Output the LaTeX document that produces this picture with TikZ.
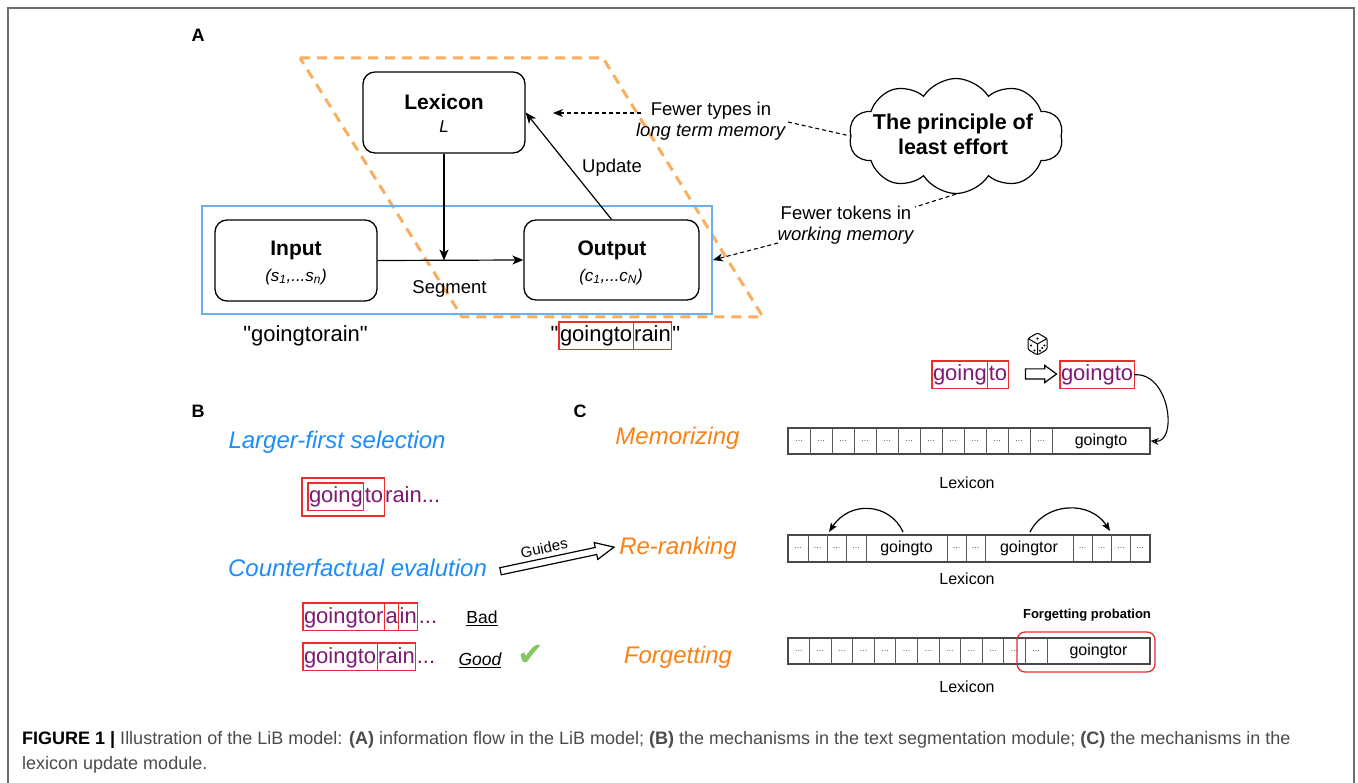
\documentclass[tikz,border=0pt]{standalone}
\usepackage{fontspec}
\setmainfont{Liberation Sans}
\newfontfamily\djv{DejaVu Sans}
\usetikzlibrary{arrows.meta,shapes.symbols,shapes.arrows,calc}
\newcommand{\dquote}{\XeTeXglyph\XeTeXcharglyph"22\relax}
\definecolor{myblue}{RGB}{30,140,250}
\definecolor{myorange}{RGB}{250,130,20}
\definecolor{dashorange}{RGB}{250,175,95}
\definecolor{rectblue}{RGB}{110,175,240}
\definecolor{mypurple}{RGB}{125,25,115}
\definecolor{myred}{RGB}{235,45,45}
\definecolor{mygreen}{RGB}{130,200,100}
\definecolor{framegray}{RGB}{110,110,110}
\definecolor{capgray}{RGB}{75,75,75}
\definecolor{cellgray}{RGB}{90,90,90}
\begin{document}
\begin{tikzpicture}[x=1pt,y=-1pt,
  box/.style={draw, rounded corners=12pt, line width=1.3pt, inner sep=0pt},
  arr/.style={line width=1.2pt, -{Stealth[length=11pt,width=9pt,inset=3pt]}},
  darr/.style={line width=1.1pt, dash pattern=on 4pt off 3pt, -{Stealth[length=10pt,width=8pt,inset=3pt]}},
  dline/.style={line width=1.1pt, dash pattern=on 4pt off 3pt},
  boldlbl/.style={font=\fontsize{21}{25}\selectfont\bfseries},
  sublbl/.style={font=\fontsize{17}{20}\selectfont\itshape},
  midlbl/.style={font=\fontsize{18.5}{21}\selectfont, align=center},
  panel/.style={font=\fontsize{18}{21}\selectfont\bfseries},
  sg/.style={inner xsep=1pt, inner ysep=0pt, text height=20pt, text depth=7.5pt, anchor=base west, text=mypurple, font=\fontsize{22}{26}\selectfont, outer sep=0pt},
  sgb/.style={sg, draw=myred, line width=1.1pt},
  sgk/.style={sg, text=black},
  sgbk/.style={sgb, text=black},
  redbox/.style={draw=myred, line width=1.1pt},
  bluelbl/.style={font=\fontsize{24}{28}\selectfont\itshape, text=myblue},
  orangelbl/.style={font=\fontsize{24}{28}\selectfont\itshape, text=myorange},
  barbox/.style={draw=cellgray!80!black, line width=1.3pt, inner sep=0pt, minimum width=362pt},
  cellline/.style={draw=cellgray, line width=1pt},
  dots/.style={font=\fontsize{9}{10}\selectfont, text=cellgray},
  cellword/.style={font=\fontsize{16}{19}\selectfont},
  hollow/.style={single arrow, draw, line width=1.2pt, inner xsep=0pt, fill=white},
  captext/.style={font=\fontsize{18}{21}\selectfont, text=capgray, anchor=base west, inner sep=0pt}
]
\useasboundingbox (0,0) rectangle (1358,783);
\fill[white] (0,0) rectangle (1358,783);
% frame
\draw[framegray, line width=1.5pt] (8,790) -- (8,8) -- (1354,8) -- (1354,790);

% ===== Panel A =====
\node[panel] (pA) at (198,35) {A};
\draw[dashorange, line width=3pt, dash pattern=on 10pt off 7pt] (300,58) -- (603,58) -- (763,317) -- (462,317) -- cycle;
\node[draw=rectblue, line width=1.8pt, minimum width=510pt, minimum height=108pt, inner sep=0pt] (wm) at (457,260) {};

\node[box, minimum width=162pt, minimum height=81pt] (lex) at (444,112.5) {};
\node[boldlbl] (lext) at (444,102) {Lexicon};
\node[sublbl] (lexL) at (444,127) {L};

\node[box, minimum width=162pt, minimum height=81pt] (inp) at (296,260.5) {};
\node[boldlbl] (inpt) at (296,250) {Input};
\node[sublbl] (inps) at (296,277) {(s\textsubscript{1},...s\textsubscript{n})};

\node[box, minimum width=175pt, minimum height=80pt] (out) at (611.5,260) {};
\node[boldlbl] (outt) at (612,250) {Output};
\node[sublbl] (outc) at (611,277) {(c\textsubscript{1},...c\textsubscript{N})};

\coordinate (junc) at (lex.south |- inp.east);
\draw[arr] (lex.south) -- (junc);
\draw[arr] (inp.east) -- (out.west);
\draw[arr] (out.north) -- (lex.east);
\node[midlbl] (upd) at (612,168) {Update};
\node[midlbl] (seg) at (449.5,289) {Segment};

\node[font=\fontsize{22}{26}\selectfont, anchor=base] (inword) at (305.5,342) {\dquote goingtorain\dquote};
\node[sgbk] (og1) at (559,342) {goingto};
\node[sgbk] (og2) at (og1.base east) {rain};
\node[sgk, anchor=base west, inner xsep=0.5pt] (oq2) at (og2.base east) {\dquote};
\node[sgk, anchor=base east, inner xsep=0.5pt] (oq1) at (og1.base west) {\dquote};

\node[midlbl] (ftypes) at (711,121.5) {Fewer types in\\\textit{long term memory}};
\coordinate (fts) at (641,113);
\coordinate (ftip) at (553,113);
\draw[darr] (fts) -- (ftip);

\node[cloud, draw, cloud puffs=10, cloud puff arc=115, aspect=1.9, minimum width=214pt, minimum height=115pt, line width=1.2pt, inner sep=0pt] (cloud) at (956,136) {};
\node[font=\fontsize{21.5}{25}\selectfont\bfseries, align=center] (cloudt) at (953,134.5) {The principle of\\least effort};
\coordinate (ftr) at (788,122);
\draw[dline] (ftr) -- (cloud.west);

\node[midlbl] (ftok) at (846,225.5) {Fewer tokens in\\\textit{working memory}};
\coordinate (ftkr) at (915,207);
\coordinate (ftkl) at (778,243);
\draw[dline] (cloud.south) -- (ftkr);
\draw[darr] (ftkl) -- (wm.east);

% ===== Panel B =====
\node[panel] (pB) at (198,411) {B};
\node[bluelbl] (lfs) at (337,442) {Larger-first selection};
\node[sgb] (b1a) at (308,503) {going};
\node[sg] (b1b) at (b1a.base east) {to};
\node[sg] (b1c) at (b1b.base east) {rain...};
\draw[redbox] (302,478) rectangle (b1b.east |- 0,516);

\node[bluelbl] (cfe) at (357.5,568) {Counterfactual evalution};
\node[hollow, minimum height=116pt, single arrow head extend=5pt, single arrow tip angle=50, inner ysep=3pt, rotate=12] (guides) at (553.5,560) {};
\node[font=\fontsize{15}{18}\selectfont, rotate=12] (guidest) at (544,548) {Guides};

\node[sgb] (b2a) at (303,623) {goingtor};
\node[sgb] (b2b) at (b2a.base east) {a};
\node[sgb] (b2c) at (b2b.base east) {in};
\node[sg] (b2d) at (b2c.base east) {...};
\node[font=\fontsize{17.5}{20}\selectfont] (bad) at (482,618) {\underline{Bad}};

\node[sgb] (b3a) at (303,663) {goingto};
\node[sgb] (b3b) at (b3a.base east) {rain};
\node[sg] (b3c) at (b3b.base east) {...};
\node[font=\fontsize{17.5}{20}\selectfont\itshape] (good) at (480,660) {\underline{Good}};
\node[font=\fontsize{32}{34}\selectfont\djv, text=mygreen] (check) at (531,655) {✔};

% ===== Panel C =====
\node[panel] (pC) at (580,411) {C};
\node[orangelbl] (mem) at (677.5,438) {Memorizing};
\node[orangelbl] (rer) at (678,548) {Re-ranking};
\node[orangelbl] (forg) at (678,657) {Forgetting};

% dice
\begin{scope}[shift={(1037.5,344)}]
  \draw[line width=1pt, line join=round, rounded corners=1.5pt] (0,-11) -- (9.5,-5.5) -- (9.5,5.5) -- (0,11) -- (-9.5,5.5) -- (-9.5,-5.5) -- cycle;
  \draw[line width=1pt] (-9.5,-5.5) -- (0,0) -- (9.5,-5.5) (0,0) -- (0,11);
  \fill (0,-5.5) circle (1.2pt);
  \fill (-6.5,1.5) circle (1.1pt) (-3,6.5) circle (1.1pt);
  \fill (7,1.5) circle (1.1pt) (4.75,4) circle (1.1pt) (2.5,6.8) circle (1.1pt);
\end{scope}

\node[sgb] (c1a) at (932,381) {going};
\node[sgb] (c1b) at (c1a.base east) {to};
\node[hollow, minimum height=31pt, single arrow head extend=3.5pt, single arrow tip angle=72, inner ysep=4.5pt] (darrow) at (1037.5,374) {};
\node[sgb] (c2) at (1060,381) {goingto};

% bar 1
\node[barbox, minimum height=26pt] (bar1) at (969,441) {};
\foreach \i in {1,...,12} {
  \draw[cellline] ({788+22*\i},428) -- ({788+22*\i},454);
  \node[dots] at ({788+22*\i-11},441) {...};
}
\node[cellword] (w1) at (1101,441) {goingto};
\node[cellword] (lx1) at (967,483) {Lexicon};
\draw[line width=1.1pt, -{Stealth[open,length=8pt,width=7pt]}] (c2.east) .. controls (1170,372) and (1178,443) .. (bar1.east);

% bar 2
\node[barbox, minimum height=27pt] (bar2) at (969,548.5) {};
\foreach \x in {808,827,846,866,947,966,985,1073,1092,1111,1130.5} {
  \draw[cellline] (\x,535) -- (\x,562);
}
\foreach \x in {798,817.5,836.5,856,956.5,975.5,1082.5,1101.5,1121,1140} {
  \node[dots] at (\x,548.5) {...};
}
\node[cellword] (w2a) at (906.5,548.5) {goingto};
\node[cellword] (w2b) at (1029,548.5) {goingtor};
\node[cellword] (lx2) at (967,579) {Lexicon};
\coordinate (ra1) at (903,532);
\coordinate (ra2) at (829,532);
\coordinate (rb1) at (1030,532);
\coordinate (rb2) at (1110,531);
\draw[line width=1.2pt, -{Stealth[length=9pt,width=7pt,inset=2pt]}] (ra1) .. controls (890,503) and (850,500) .. (ra2);
\draw[line width=1.2pt, -{Stealth[length=9pt,width=7pt,inset=2pt]}] (rb1) .. controls (1045,502) and (1090,500) .. (rb2);

% bar 3
\node[barbox, minimum height=26pt] (bar3) at (969,651) {};
\foreach \i in {1,...,12} {
  \draw[cellline] ({788+21.583*\i},638) -- ({788+21.583*\i},664);
  \node[dots] at ({788+21.583*\i-10.79},651) {...};
}
\node[cellword] (w3) at (1098.5,651) {goingtor};
\node[draw=myred, rounded corners=8pt, line width=1.3pt, minimum width=138pt, minimum height=40pt, inner sep=0pt] (probe) at (1086,652) {};
\node[font=\fontsize{13}{15}\selectfont\bfseries] (probt) at (1087,615) {Forgetting probation};
\node[cellword] (lx3) at (967,687) {Lexicon};

% caption
\node[captext] (cap1) at (22,744) {\textcolor{black}{\textbf{FIGURE 1 |}} Illustration of the LiB model: \textbf{(A)} information flow in the LiB model; \textbf{(B)} the mechanisms in the text segmentation module; \textbf{(C)} the mechanisms in the};
\node[captext] (cap2) at (22,769) {lexicon update module.};
\end{tikzpicture}
\end{document}
